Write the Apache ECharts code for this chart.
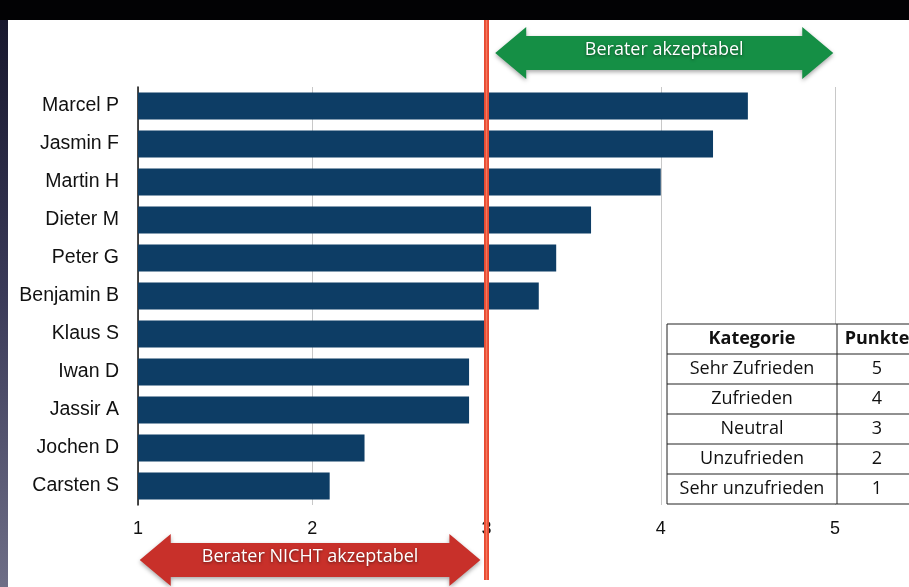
<!DOCTYPE html>
<html><head><meta charset="utf-8">
<script src="https://cdn.jsdelivr.net/npm/echarts@6/dist/echarts.min.js"></script>
<style>
html,body{margin:0;padding:0;}
#wrap{position:relative;width:909px;height:587px;overflow:hidden;background:linear-gradient(to bottom,#15152a 0%,#3a3a58 50%,#6e6e86 100%);}
#topband{position:absolute;left:0;top:0;width:909px;height:20px;background:#020204;}
#paper{position:absolute;left:8px;top:20px;right:0;bottom:0;background:#fff;}
#chart{position:absolute;left:0;top:0;width:909px;height:587px;}
</style></head>
<body>
<div id="wrap"><div id="topband"></div><div id="paper"></div><div id="chart"></div></div>
<script>
const names = ["Marcel P","Jasmin F","Martin H","Dieter M","Peter G","Benjamin B","Klaus S","Iwan D","Jassir A","Jochen D","Carsten S"];
const scores = [4.5,4.3,4.0,3.6,3.4,3.3,3.0,2.9,2.9,2.3,2.1];
const threshold = 3;
const tableHeader = ["Kategorie","Punkte"];
const tableCategories = ["Sehr Zufrieden","Zufrieden","Neutral","Unzufrieden","Sehr unzufrieden"];
const tablePoints = ["5","4","3","2","1"];
const goodLabel = "Berater akzeptabel";
const badLabel = "Berater NICHT akzeptabel";

const chart = echarts.init(document.getElementById('chart'), null, {renderer:'canvas'});
chart.setOption({
  backgroundColor:'transparent',
  animation:false,
  grid:{left:138,right:74,top:87,bottom:82,containLabel:false},
  xAxis:{type:'value',min:1,max:5,interval:1,
    axisLine:{show:false},axisTick:{show:false},
    axisLabel:{fontFamily:'Liberation Sans',fontSize:18,color:'#111',margin:15},
    splitLine:{show:true,lineStyle:{color:'#c8c8c8',width:1}}},
  yAxis:{type:'category',data:names,inverse:true,
    axisLine:{show:true,lineStyle:{color:'#111',width:1.5}},axisTick:{show:false},
    axisLabel:{fontFamily:'Liberation Sans',fontSize:19.5,color:'#111',margin:19}},
  series:[{type:'bar',data:scores,barCategoryGap:'29%',itemStyle:{color:'#0d3d65'}}]
});

function px(v){ return chart.convertToPixel({xAxisIndex:0}, v); }
function arrow(x1,x2,cy,headLen,bodyH,headH){
  const bt=cy-bodyH/2, bb=cy+bodyH/2, ht=cy-headH/2, hb=cy+headH/2;
  return [[x1,cy],[x1+headLen,ht],[x1+headLen,bt],[x2-headLen,bt],[x2-headLen,ht],[x2,cy],[x2-headLen,hb],[x2-headLen,bb],[x1+headLen,bb],[x1+headLen,hb]];
}
const xT = px(threshold);
const g = [];
// red threshold line
g.push({type:'rect',z:100,shape:{x:xT-2.5,y:20,width:5,height:560},style:{fill:'#e84a32'}});
g.push({type:'rect',z:101,shape:{x:xT-0.7,y:20,width:1.4,height:560},style:{fill:'#f47a60'}});
// green arrow
const gx1 = px(3.05), gx2 = px(4.99);
g.push({type:'polygon',z:90,shape:{points:arrow(gx1,gx2,53,31,34,52)},style:{fill:'#158f45',shadowBlur:4,shadowOffsetY:2,shadowColor:'rgba(0,0,0,0.35)'}});
g.push({type:'text',z:91,style:{x:(gx1+gx2)/2,y:50,text:goodLabel,fill:'#fff',font:'18px "Open Sans"',align:'center',verticalAlign:'middle',textShadowBlur:3,textShadowColor:'rgba(0,0,0,0.5)',textShadowOffsetY:1}});
// red arrow
const rx1 = px(1.01), rx2 = px(2.965);
g.push({type:'polygon',z:90,shape:{points:arrow(rx1,rx2,560,31,34,52)},style:{fill:'#c8302a',shadowBlur:4,shadowOffsetY:2,shadowColor:'rgba(0,0,0,0.35)'}});
g.push({type:'text',z:91,style:{x:(rx1+rx2)/2,y:557,text:badLabel,fill:'#fff',font:'18px "Open Sans"',align:'center',verticalAlign:'middle',textShadowBlur:3,textShadowColor:'rgba(0,0,0,0.5)',textShadowOffsetY:1}});
// table
const tx=667, ty=324, rh=30, c1=170, c2=140;
const rows = [[tableHeader[0],tableHeader[1]]].concat(tableCategories.map((c,i)=>[c,tablePoints[i]]));
g.push({type:'rect',z:80,shape:{x:tx,y:ty,width:c1+c2,height:rh*rows.length},style:{fill:'#fff',stroke:'#222',lineWidth:1}});
rows.forEach((r,i)=>{
  const y=ty+i*rh;
  if(i>0) g.push({type:'line',z:81,shape:{x1:tx,y1:y,x2:tx+c1+c2,y2:y},style:{stroke:'#222',lineWidth:1}});
  const f = (i===0?'bold 18px':'18px')+' "Open Sans"';
  g.push({type:'text',z:82,style:{x:tx+c1/2,y:y+rh/2,text:r[0],fill:'#111',font:f,align:'center',verticalAlign:'middle'}});
  g.push({type:'text',z:82,style:{x:tx+c1+40,y:y+rh/2,text:r[1],fill:'#111',font:f,align:'center',verticalAlign:'middle'}});
});
g.push({type:'line',z:81,shape:{x1:tx+c1,y1:ty,x2:tx+c1,y2:ty+rh*rows.length},style:{stroke:'#222',lineWidth:1}});
chart.setOption({graphic:g});
</script>
</body></html>
